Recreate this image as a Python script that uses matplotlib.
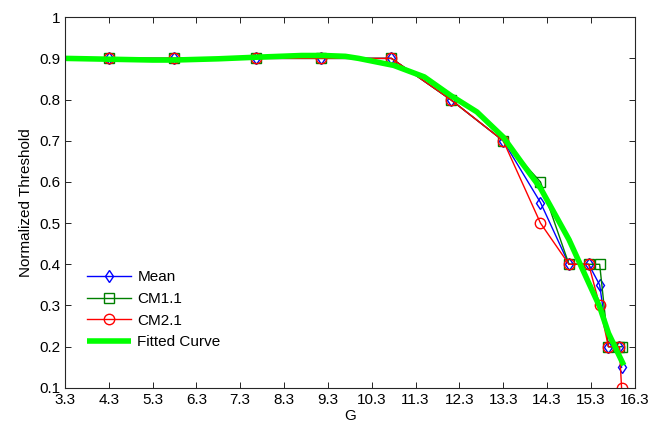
import matplotlib
matplotlib.use("Agg")
import matplotlib.pyplot as plt

plt.rcParams['font.family'] = ['Liberation Sans', 'DejaVu Sans']

g = [4.3, 5.8, 7.65, 9.15, 10.75, 12.1, 13.3, 14.15, 14.8, 15.25, 15.5, 15.7, 15.95, 16.0]
mean_vals = [0.9, 0.9, 0.9, 0.9, 0.9, 0.8, 0.7, 0.55, 0.4, 0.4, 0.35, 0.2, 0.2, 0.15]
cm11_vals = [0.9, 0.9, 0.9, 0.9, 0.9, 0.8, 0.7, 0.6, 0.4, 0.4, 0.4, 0.2, 0.2, 0.2]
cm21_vals = [0.9, 0.9, 0.9, 0.9, 0.9, 0.8, 0.7, 0.5, 0.4, 0.4, 0.3, 0.2, 0.2, 0.1]

fit_g = [3.3, 4.3, 5.3, 5.8, 6.8, 7.7, 8.7, 9.2, 9.7, 10.0, 10.8, 11.5, 12.1,
         12.7, 13.3, 13.7, 14.15, 14.8, 15.25, 15.5, 15.7, 16.05]
fit_vals = [0.900, 0.898, 0.896, 0.896, 0.899, 0.903, 0.907, 0.907, 0.905, 0.900,
            0.883, 0.855, 0.810, 0.770, 0.709, 0.650, 0.585, 0.460, 0.355, 0.297,
            0.233, 0.155]

xticks = [3.3 + i for i in range(14)]
yticks = [0.1, 0.2, 0.3, 0.4, 0.5, 0.6, 0.7, 0.8, 0.9, 1.0]
ytick_labels = ['0.1', '0.2', '0.3', '0.4', '0.5', '0.6', '0.7', '0.8', '0.9', '1']

fig = plt.figure(figsize=(6.49, 4.30), dpi=100)
ax = fig.add_axes([0.100, 0.098, 0.878, 0.862])

ax.plot(g, mean_vals, color='blue', lw=1, marker='d', ms=6.5, mfc='none', mew=1, label='Mean')
ax.plot(g, cm11_vals, color=(0, 0.5, 0), lw=1, marker='s', ms=6.5, mfc='none', mew=1, label='CM1.1')
ax.plot(g, cm21_vals, color='red', lw=1, marker='o', ms=7.5, mfc='none', mew=1, label='CM2.1')
ax.plot(fit_g, fit_vals, color=(0, 1, 0), lw=4, label='Fitted Curve',
        solid_capstyle='butt', solid_joinstyle='round')

ax.set_xlim(3.3, 16.3)
ax.set_ylim(0.1, 1.0)
ax.set_xticks(xticks)
ax.set_xticklabels([f'{t:.1f}' for t in xticks])
ax.set_yticks(yticks)
ax.set_yticklabels(ytick_labels)
ax.tick_params(direction='in', top=True, right=True, labelsize=11, length=4, width=0.6)
for s in ax.spines.values():
    s.set_linewidth(0.8)
    s.set_color('#262626')

ax.set_xlabel('G', fontsize=11, labelpad=2)
ax.set_ylabel('Normalized Threshold', fontsize=11, labelpad=4)

ax.legend(loc='lower left', bbox_to_anchor=(0.02, 0.075), frameon=False, fontsize=11,
          handlelength=2.9, handletextpad=0.4, labelspacing=0.5, borderaxespad=0.3)

fig.savefig('out.png', dpi=100)
